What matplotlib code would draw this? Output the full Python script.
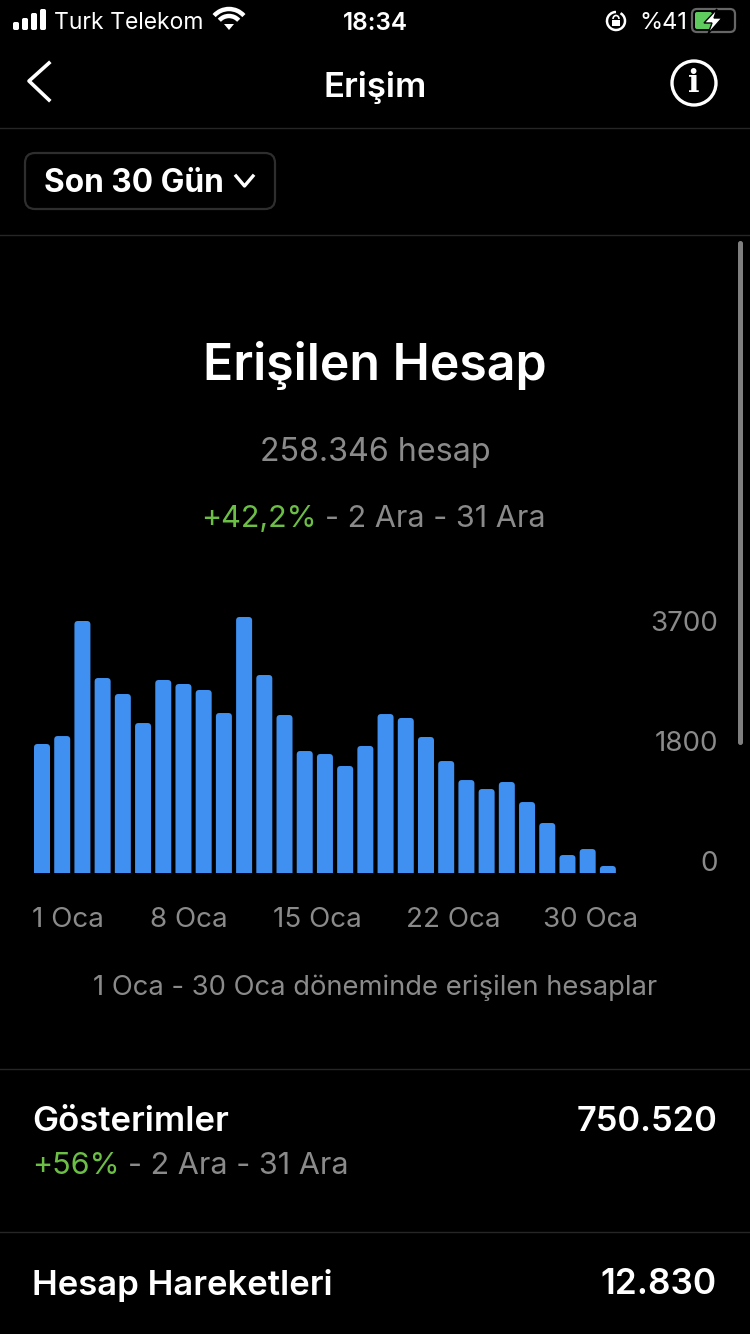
import matplotlib
matplotlib.use("Agg")
import matplotlib.pyplot as plt
from matplotlib.patches import FancyBboxPatch, PathPatch, Circle, Arc, Rectangle, Polygon
from matplotlib.path import Path

plt.rcParams['font.family'] = ['Inter', 'DejaVu Sans']

# daily reached accounts
reach = [1894, 2011, 3700, 2863, 2628, 2202, 2834, 2775, 2687, 2349,
         3759, 2907, 2320, 1791, 1747, 1571, 1865, 2334, 2276, 1997,
         1644, 1365, 1233, 1336, 1042, 734, 264, 352, 103]
date_labels = ['1 Oca', '8 Oca', '15 Oca', '22 Oca', '30 Oca']
y_labels = ['0', '1800', '3700']

BLUE = '#3F90F0'
GRAY = '#8A8A8A'
GREEN = '#6CBF45'
LINE = '#262626'
WHITE = '#FFFFFF'
W, H = 750, 1334

fig = plt.figure(figsize=(7.5, 13.34), dpi=100, facecolor='black')

# page in pixel coordinates
ui = fig.add_axes([0, 0, 1, 1])
ui.set_xlim(0, W)
ui.set_ylim(H, 0)
ui.axis('off')

# chart axes, x is day index, y is accounts
PX = 20.21      # bar step
VAL = 3700 / 252  # accounts per pixel
left, right, top, base = 32, 718, 600, 873
ax = fig.add_axes([left / W, 1 - base / H, (right - left) / W, (base - top) / H])
ax.patch.set_alpha(0)
ax.set_xlim((left - 42) / PX, (right - 42) / PX)
ax.set_ylim(0, (base - top) * VAL)
for s in ax.spines.values():
    s.set_visible(False)

bars = ax.bar(range(len(reach)), reach, width=16 / PX, color=BLUE)
rx, ry = 3.5 / PX, 3.5 * VAL
for b in bars:
    x0, x1, h = b.get_x(), b.get_x() + b.get_width(), b.get_height()
    r = min(ry, h)
    verts = [(x0, 0), (x0, h - r), (x0, h), (x0 + rx, h), (x1 - rx, h), (x1, h), (x1, h - r), (x1, 0), (x0, 0)]
    codes = [Path.MOVETO, Path.LINETO, Path.CURVE3, Path.CURVE3, Path.LINETO,
             Path.CURVE3, Path.CURVE3, Path.LINETO, Path.CLOSEPOLY]
    ax.add_patch(PathPatch(Path(verts, codes), fc=BLUE, ec='none'))
    b.remove()

ax.set_xticks([(c - 42) / PX for c in (68, 189, 317, 453, 591)], date_labels)
ax.yaxis.tick_right()
ax.set_yticks([(base - c) * VAL for c in (861, 741, 621)], y_labels)
ax.tick_params(length=0, colors=GRAY, labelsize=20)
ax.tick_params(axis='x', pad=24.5)
ax.tick_params(axis='y', pad=0)
for t in ax.get_yticklabels():
    t.set_ha('right')

def txt(x, y, s, size, color=WHITE, ha='left', weight='normal', **kw):
    return ui.text(x, y + 3, s, fontsize=size, color=color, ha=ha, va='center', fontweight=weight, **kw)

# status bar
for i, h in enumerate([8, 12, 17, 21]):
    ui.add_patch(FancyBboxPatch((13 + i * 9, 30 - h), 6, h, boxstyle='round,pad=0,rounding_size=1.8', fc=WHITE, ec='none'))
txt(54, 20, 'Turk Telekom', 16.5)
for r, lw in [(20, 3.2), (13, 3.2)]:
    ui.add_patch(Arc((229, 29), 2 * r, 2 * r, theta1=222, theta2=318, color=WHITE, lw=lw))
ui.add_patch(Polygon([(229, 30), (224, 24), (234, 24)], fc=WHITE, ec='none'))
txt(375, 20, '18:34', 17.5, ha='center', weight='semibold')
ui.add_patch(Arc((616, 21), 18, 18, theta1=-60, theta2=270, color=WHITE, lw=1.8))
ui.add_patch(Rectangle((612, 20), 8, 6, fc=WHITE, ec='none'))
ui.add_patch(Arc((616, 19), 6, 7, theta1=180, theta2=360, color=WHITE, lw=1.2))
txt(639, 20, '%41', 17)
ui.add_patch(FancyBboxPatch((692, 9), 43, 23, boxstyle='round,pad=0,rounding_size=5', fc='none', ec='#666666', lw=1.6))
ui.add_patch(FancyBboxPatch((695, 12), 17, 17, boxstyle='round,pad=0,rounding_size=2', fc='#5FCB5F', ec='none'))
ui.add_patch(Polygon([(717, 9), (704, 23), (712, 23), (708, 34), (722, 18), (714, 18)], fc=WHITE, ec='black', lw=1))

# nav bar
ui.plot([49, 29, 49], [63, 81, 100], color=WHITE, lw=2.6)
txt(375, 84, 'Erişim', 25, ha='center', weight='semibold')
ui.add_patch(Circle((694, 83), 22, fc='none', ec=WHITE, lw=2.4))
txt(694, 80, 'i', 22, ha='center', weight='bold', family='DejaVu Serif')
ui.plot([0, W], [128, 128], color=LINE, lw=1)

# period selector
ui.add_patch(FancyBboxPatch((25, 153), 250, 56, boxstyle='round,pad=0,rounding_size=10', fc='none', ec='#2E2E2E', lw=1.6))
txt(44, 180, 'Son 30 Gün', 22.8, weight='bold')
ui.plot([236, 244.5, 253], [176, 186, 176], color=WHITE, lw=2.4)
ui.plot([0, W], [235, 235], color=LINE, lw=1)

# scrollbar
ui.add_patch(FancyBboxPatch((738, 241), 5, 504, boxstyle='round,pad=0,rounding_size=2.5', fc='#7F7F7F', ec='none'))

# header
txt(375, 363, 'Erişilen Hesap', 36, ha='center', weight='semibold')
txt(375, 450, '258.346 hesap', 23.2, GRAY, ha='center')
txt(201, 516, '+42,2%', 22, GREEN)
txt(325, 516, '- 2 Ara - 31 Ara', 22, GRAY)
txt(375, 985, '1 Oca - 30 Oca döneminde erişilen hesaplar', 19.7, GRAY, ha='center')

# lower rows
ui.plot([0, W], [1069, 1069], color=LINE, lw=1)
txt(32, 1119, 'Gösterimler', 25, weight='semibold')
txt(717, 1119, '750.520', 24.8, ha='right', weight='semibold')
txt(32, 1163, '+56%', 22, GREEN)
txt(128, 1163, '- 2 Ara - 31 Ara', 22, GRAY)
ui.plot([0, W], [1232, 1232], color=LINE, lw=1)
txt(32, 1282, 'Hesap Hareketleri', 25, weight='semibold')
txt(717, 1282, '12.830', 25.4, ha='right', weight='semibold')

fig.savefig('out.png', dpi=100, facecolor='black')
